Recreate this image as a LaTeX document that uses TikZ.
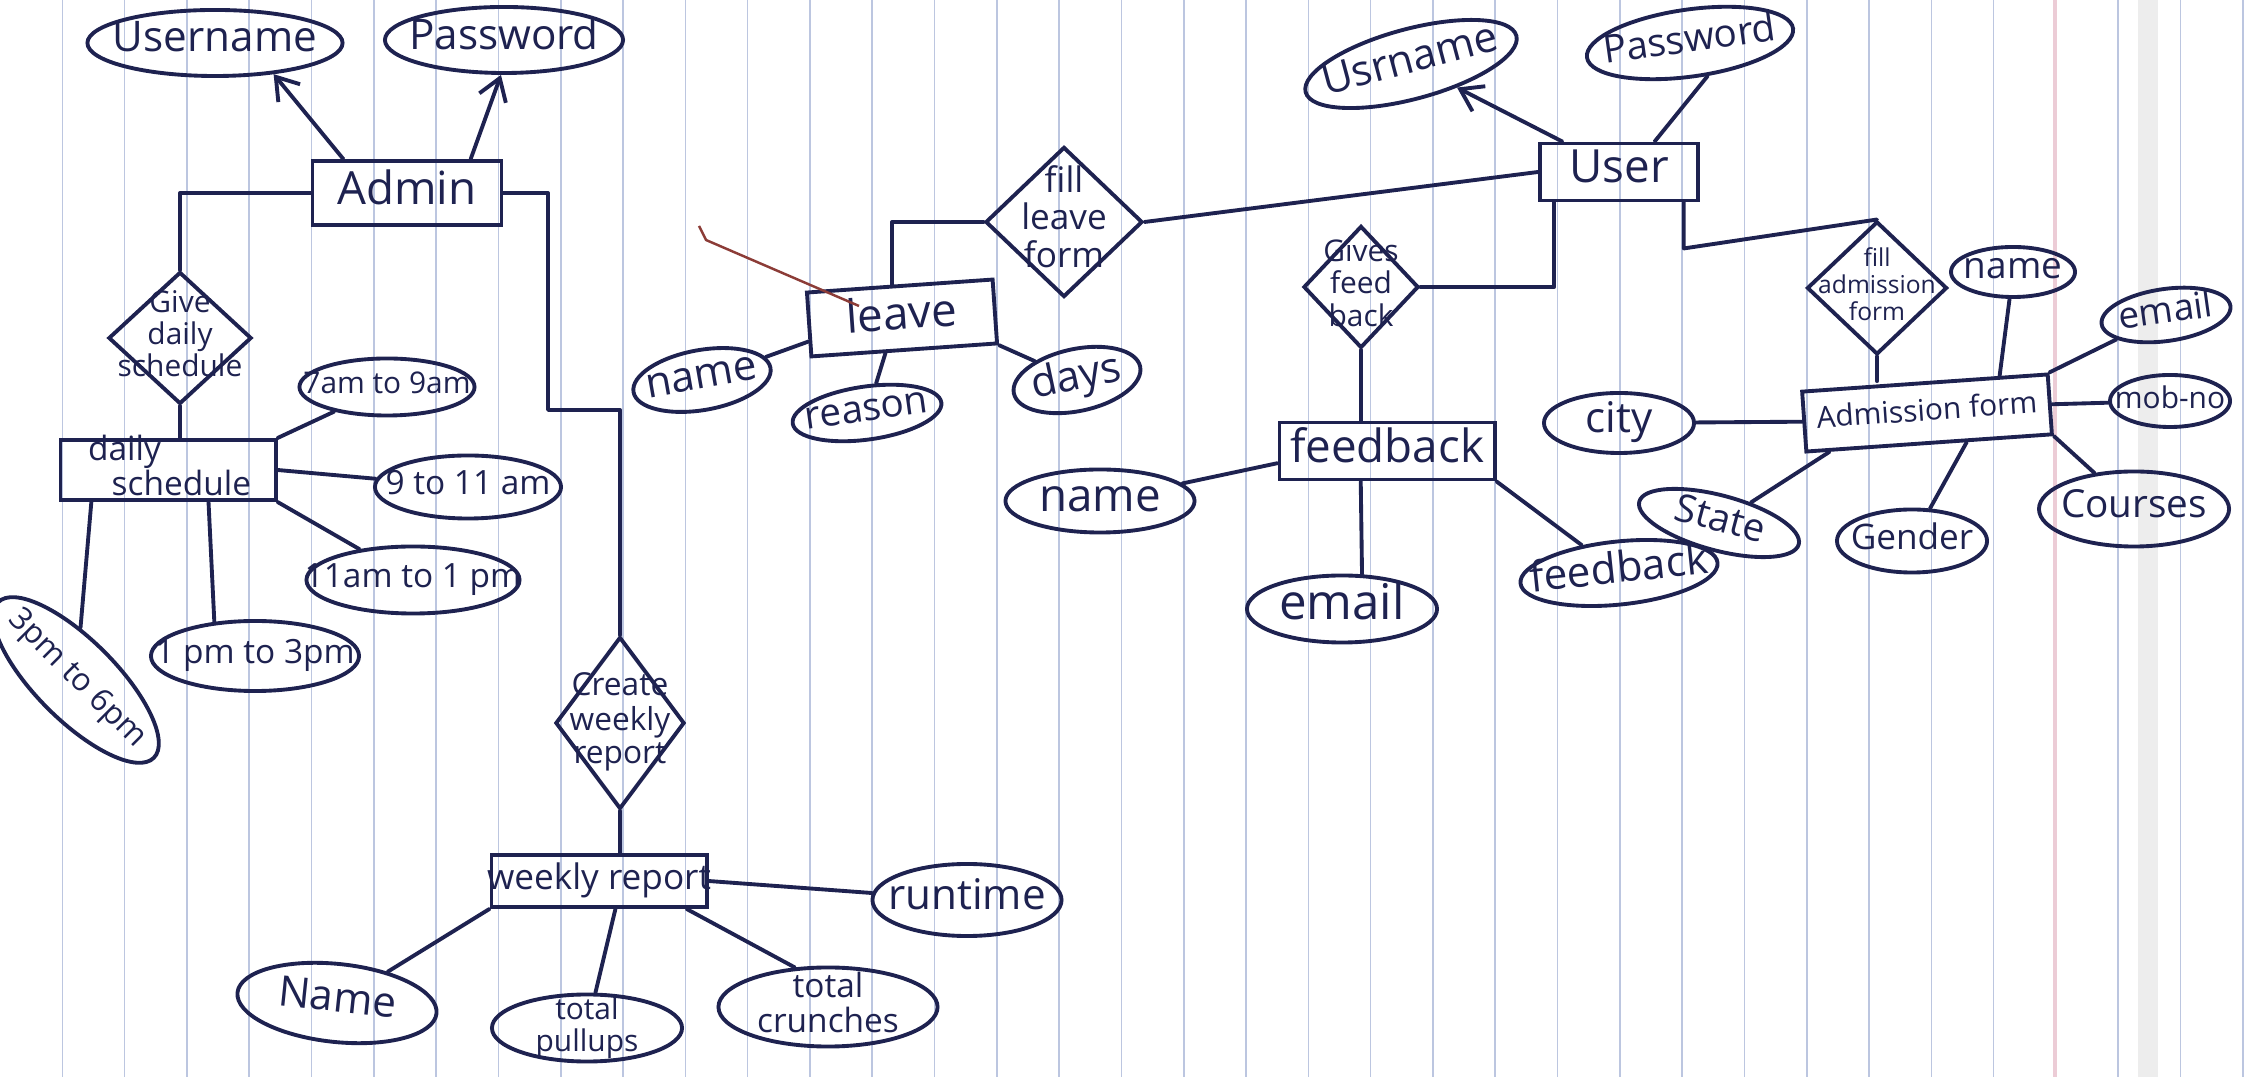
\documentclass[tikz,border=0pt]{standalone}
\usepackage{fontspec}
\setmainfont{Open Sans}
\usetikzlibrary{calc,shapes.geometric,arrows.meta}
\definecolor{ink}{RGB}{30,34,80}
\definecolor{ruling}{RGB}{188,198,224}
\definecolor{margin}{RGB}{236,204,214}
\definecolor{penred}{RGB}{140,60,55}
\newcommand{\pen}[2]{\fontsize{#1}{#2}\selectfont}
% text box without size, so the shapes keep the drawn size
\newcommand{\nb}[1]{\smash{\makebox[0pt]{\raisebox{-0.25em}{\begin{tabular}{@{}c@{}}#1\end{tabular}}}}}
\tikzset{
  ent/.style 2 args={rectangle, draw=ink, line width=1.1pt, text=ink, inner sep=0pt, minimum width=#1, minimum height=#2},
  attr/.style 2 args={ellipse, draw=ink, line width=1.1pt, text=ink, inner sep=0pt, minimum width=#1, minimum height=#2},
  rel/.style 2 args={diamond, draw=ink, line width=1.1pt, text=ink, inner sep=0pt, minimum width=#1, minimum height=#2},
  link/.style={draw=ink, line width=1.1pt, line cap=round, line join=round},
  >={Straight Barb[length=6pt,width=8pt]}
}

\begin{document}
\begin{tikzpicture}[x=0.01cm,y=-0.01cm]
\useasboundingbox (0,0) rectangle (2246,1077);
\fill[white] (0,0) rectangle (2246,1077);
% ruled paper
\foreach \k in {1,...,36}
  \draw[ruling, line width=0.45pt] ({62.3*\k},0) -- ({62.3*\k},1077);
\draw[margin, line width=1.4pt] (2055,0) -- (2055,1077);
\fill[black!7] (2138,0) rectangle (2158,1077);

% admin side
\node[ent={1.89cm}{0.64cm}, font=\pen{13}{13}] (admin) at (407,193) {\nb{Admin}};
\node[attr={2.55cm}{0.66cm}, font=\pen{12}{12}] (aduser) at (215,43) {\nb{Username}};
\node[attr={2.38cm}{0.66cm}, font=\pen{12}{12}] (adpass) at (504,40) {\nb{Password}};
\node[rel={1.43cm}{1.32cm}, font=\pen{8.5}{9}] (gds) at (180,338) {\nb{Give\\daily\\schedule}};
\node[ent={2.15cm}{0.6cm}, font=\pen{9.5}{9.5}] (ds) at (168,470) {\nb{daily\hspace*{2.6em}\\\hspace*{0.8em}schedule}};
\node[attr={1.75cm}{0.57cm}, font=\pen{8.5}{8.5}] (t7) at (387,387) {\nb{7am to 9am}};
\node[attr={1.86cm}{0.63cm}, font=\pen{9.5}{9.5}] (t9) at (468,487) {\nb{9 to 11 am}};
\node[attr={2.13cm}{0.67cm}, font=\pen{9.5}{9.5}] (t11) at (413,580) {\nb{11am to 1 pm}};
\node[attr={2.08cm}{0.70cm}, font=\pen{9.5}{9.5}] (t1) at (255,656) {\nb{1 pm to 3pm}};
\node[attr={2.2cm}{0.8cm}, rotate=-45, font=\pen{9}{9}] (t3) at (76,680) {\nb{3pm to 6pm}};

\draw[link,->] ($(admin.north west)!0.17!(admin.north east)$) -- (aduser.-28);
\draw[link,->] ($(admin.north east)!0.17!(admin.north west)$) -- (adpass.-95);
\draw[link] (admin.west) -| (gds.north);
\draw[link] (gds.south) -- (gds.south |- ds.north);
\draw[link] (ds.north east) -- (t7);
\draw[link] (ds.east) -- (t9);
\draw[link] (ds.south east) -- (t11);
\draw[link] ($(ds.south)!0.37!(ds.south east)$) -- (t1.140);
\draw[link] ($(ds.south west)!0.15!(ds.south east)$) -- (t3);

% weekly report
\node[rel={1.29cm}{1.72cm}, font=\pen{9}{9.5}] (cwr) at (620,723) {\nb{Create\\weekly\\report}};
\node[ent={2.15cm}{0.52cm}, font=\pen{10}{10}] (wr) at (599,881) {\nb{weekly report}};
\node[attr={1.89cm}{0.72cm}, font=\pen{12}{12}] (rt) at (967,900) {\nb{runtime}};
\node[attr={2.0cm}{0.78cm}, rotate=-6, font=\pen{12}{12}] (nm) at (337,1003) {\nb{Name}};
\node[attr={1.9cm}{0.67cm}, font=\pen{8.5}{8.5}] (pu) at (587,1028) {\nb{total\\pullups}};
\node[attr={2.19cm}{0.79cm}, font=\pen{9.5}{9.5}] (tc) at (828,1007) {\nb{total\\crunches}};

\coordinate (bendwr) at (548,410);
\draw[link] (admin.east) -| (bendwr) -| (cwr.north);
\draw[link] (cwr.south) -- (cwr.south |- wr.north);
\draw[link] (wr.south west) -- (nm);
\draw[link] ($(wr.south)!0.15!(wr.south east)$) -- (pu);
\draw[link] ($(wr.south)!0.8!(wr.south east)$) -- (tc.130);
\draw[link] (wr.east) -- (rt);

% leave
\node[rel={1.57cm}{1.5cm}, font=\pen{10}{10.5}] (fll) at (1064,222) {\nb{fill\\leave\\form}};
\node[ent={1.86cm}{0.64cm}, rotate=4, font=\pen{13}{13}] (lv) at (902,318) {\nb{leave}};
\node[attr={1.39cm}{0.6cm}, rotate=10, font=\pen{12}{12}] (lname) at (702,380) {\nb{name}};
\node[attr={1.5cm}{0.53cm}, rotate=8, font=\pen{11}{11}] (reason) at (867,413) {\nb{reason}};
\node[attr={1.29cm}{0.62cm}, rotate=12, font=\pen{12}{12}] (days) at (1077,380) {\nb{days}};

\draw[link] (fll.west) -| ($(lv.north west)!0.46!(lv.north east)$);
\draw[link] ($(lv.west)!0.5!(lv.south west)$) -- (lname);
\draw[link] ($(lv.south)!0.2!(lv.south west)$) -- (reason);
\draw[link] (lv.south east) -- (days);
\coordinate (penA) at (699,226);
\coordinate (penB) at (859,306);
\draw[penred, line width=0.7pt] (penA) -- ++(7,14) -- (penB);

% user
\node[ent={1.58cm}{0.57cm}, font=\pen{13}{13}] (user) at (1619,172) {\nb{User}};
\node[attr={2.18cm}{0.7cm}, rotate=15, font=\pen{12}{12}] (uuser) at (1411,64) {\nb{Usrname}};
\node[attr={2.08cm}{0.67cm}, rotate=8, font=\pen{11}{11}] (upass) at (1690,43) {\nb{Password}};

\draw[link] (fll.east) -- (user.west);
\draw[link,->] ($(user.north west)!0.15!(user.north east)$) -- (uuser);
\draw[link] ($(user.north east)!0.28!(user.north west)$) -- (upass.-70);

% feedback
\node[rel={1.15cm}{1.22cm}, font=\pen{8.5}{9}] (gfb) at (1361,287) {\nb{Gives\\feed\\back}};
\node[ent={2.15cm}{0.57cm}, font=\pen{13}{13}] (fb) at (1387,451) {\nb{feedback}};
\node[attr={1.89cm}{0.63cm}, font=\pen{13}{13}] (fbname) at (1100,501) {\nb{name}};
\node[attr={1.9cm}{0.67cm}, font=\pen{14}{14}] (fbemail) at (1342,609) {\nb{email}};
\node[attr={1.98cm}{0.63cm}, rotate=6, font=\pen{12}{12}] (fbattr) at (1619,573) {\nb{feedback}};

\draw[link] (gfb.east) -| ($(user.south west)!0.1!(user.south east)$);
\draw[link] (gfb.south) -- (gfb.south |- fb.north);
\draw[link] ($(fb.west)!0.4!(fb.south west)$) -- (fbname);
\draw[link] ($(fb.south)!0.24!(fb.south west)$) -- (fbemail.60);
\draw[link] (fb.south east) -- (fbattr);

% admission form
\node[rel={1.4cm}{1.33cm}, font=\pen{7}{7.5}] (fad) at (1877,288) {\nb{fill\\admission\\form}};
\node[ent={2.46cm}{0.6cm}, rotate=4, font=\pen{8.5}{8.5}] (af) at (1927,413) {\nb{Admission form}};
\node[attr={1.24cm}{0.5cm}, font=\pen{10.5}{10.5}] (afname) at (2013,272) {\nb{name}};
\node[attr={1.3cm}{0.52cm}, rotate=8, font=\pen{10.5}{10.5}] (afemail) at (2166,315) {\nb{email}};
\node[attr={1.2cm}{0.52cm}, font=\pen{8.5}{8.5}] (afmob) at (2170,401) {\nb{mob-no}};
\node[attr={1.5cm}{0.6cm}, font=\pen{12}{12}] (afcity) at (1619,423) {\nb{city}};
\node[attr={1.65cm}{0.55cm}, rotate=-15, font=\pen{11}{11}] (afstate) at (1719,523) {\nb{State}};
\node[attr={1.5cm}{0.63cm}, font=\pen{10}{10}] (afgender) at (1912,541) {\nb{Gender}};
\node[attr={1.9cm}{0.75cm}, font=\pen{11}{11}] (afcourses) at (2134,509) {\nb{Courses}};

\draw[link] ($(user.south east)!0.1!(user.south west)$) -- ++(0,46) -- (fad.north);
\draw[link] (fad.south) -- (fad.south |- af.north);
\draw[link] ($(af.north)!0.6!(af.north east)$) -- (afname);
\draw[link] (af.north east) -- (afemail);
\draw[link] (af.east) -- (afmob);
\draw[link] (af.west) -- (afcity);
\draw[link] ($(af.south west)!0.1!(af.south east)$) -- (afstate);
\draw[link] ($(af.south)!0.3!(af.south east)$) -- (afgender);
\draw[link] (af.south east) -- (afcourses);
\end{tikzpicture}
\end{document}
